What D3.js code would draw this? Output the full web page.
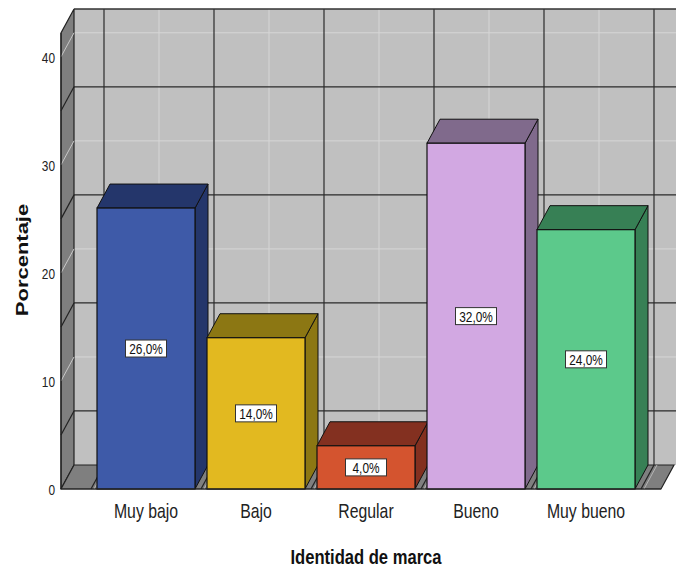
<!DOCTYPE html>
<html>
<head>
<meta charset="utf-8">
<script src="https://cdn.jsdelivr.net/npm/d3@7"></script>
<style>
  html, body { margin: 0; padding: 0; background: #fff; }
  svg { display: block; }
</style>
</head>
<body>
<div id="chart"></div>
<script>
// ── data ────────────────────────────────────────────────────────────────
const categories = ['Muy bajo', 'Bajo', 'Regular', 'Bueno', 'Muy bueno'];
const percentages = [26.0, 14.0, 4.0, 32.0, 24.0];
const yTicks = [0, 10, 20, 30, 40];

// front face / shaded face per bar
const frontColors = ['#3e5aa8', '#e2b920', '#d4542f', '#d2a8e2', '#5cc98b'];
const shadeColors = ['#24366b', '#8c7713', '#833020', '#806a8c', '#378055'];

// ── layout ──────────────────────────────────────────────────────────────
const width = 676, height = 567;
const depth = { dx: 13, dy: -24 };   // oblique offset front -> back
const plot = { left: 61, right: 661, bottom: 489, top: 33 };
const SQUASH = 0.79;                  // the text in the original is narrow

const svg = d3.select('#chart').append('svg')
    .attr('width', width)
    .attr('height', height);

const y = d3.scaleLinear().domain([0, 42.2]).range([plot.bottom, plot.top]);
const x = d3.scaleBand()
    .domain(categories)
    .range([91, 641])
    .paddingInner(12 / 110)
    .paddingOuter(6 / 110);

const step = x.step();
const bandStart = 91;
const boundaries = d3.range(categories.length + 1).map(i => bandStart + i * step);
const centers = categories.map(c => x(c) + x.bandwidth() / 2);

const back = (px, py) => [px + depth.dx, py + depth.dy];
const pts = arr => arr.map(p => p.join(',')).join(' ');

// ── walls ───────────────────────────────────────────────────────────────
const walls = svg.append('g');

// back wall
walls.append('rect')
    .attr('x', plot.left + depth.dx)
    .attr('y', plot.top + depth.dy)
    .attr('width', width - plot.left - depth.dx + 2)
    .attr('height', plot.bottom - plot.top)
    .attr('fill', '#c0c0c0');

// back wall grid: light at labelled ticks, dark halfway between
const lightRows = yTicks.filter(v => v > 0);
const darkRows = d3.range(5, 42, 10);

walls.selectAll('.hlight').data(lightRows).enter().append('line')
    .attr('x1', plot.left + depth.dx).attr('x2', width)
    .attr('y1', d => y(d) + depth.dy).attr('y2', d => y(d) + depth.dy)
    .attr('stroke', '#d6d6d6').attr('stroke-width', 1);

walls.selectAll('.vlight').data(centers).enter().append('line')
    .attr('x1', d => d + depth.dx).attr('x2', d => d + depth.dx)
    .attr('y1', plot.top + depth.dy).attr('y2', plot.bottom + depth.dy)
    .attr('stroke', '#d6d6d6').attr('stroke-width', 1);

walls.selectAll('.hdark').data(darkRows).enter().append('line')
    .attr('x1', plot.left + depth.dx).attr('x2', width)
    .attr('y1', d => y(d) + depth.dy).attr('y2', d => y(d) + depth.dy)
    .attr('stroke', '#2a2a2a').attr('stroke-width', 1.2);

walls.selectAll('.vdark').data(boundaries).enter().append('line')
    .attr('x1', d => d + depth.dx).attr('x2', d => d + depth.dx)
    .attr('y1', plot.top + depth.dy).attr('y2', plot.bottom + depth.dy)
    .attr('stroke', '#2a2a2a').attr('stroke-width', 1.2);

// top edge of back wall
walls.append('line')
    .attr('x1', plot.left + depth.dx).attr('x2', width)
    .attr('y1', plot.top + depth.dy).attr('y2', plot.top + depth.dy)
    .attr('stroke', '#333').attr('stroke-width', 1.5);

// left side wall
walls.append('polygon')
    .attr('points', pts([
        [plot.left, plot.bottom], back(plot.left, plot.bottom),
        back(plot.left, plot.top), [plot.left, plot.top]
    ]))
    .attr('fill', '#7f7f7f')
    .attr('stroke', '#222').attr('stroke-width', 1.2);

walls.selectAll('.slight').data(lightRows).enter().append('line')
    .attr('x1', plot.left).attr('y1', d => y(d))
    .attr('x2', plot.left + depth.dx).attr('y2', d => y(d) + depth.dy)
    .attr('stroke', '#c8c8c8').attr('stroke-width', 1);

walls.selectAll('.sdark').data(darkRows).enter().append('line')
    .attr('x1', plot.left).attr('y1', d => y(d))
    .attr('x2', plot.left + depth.dx).attr('y2', d => y(d) + depth.dy)
    .attr('stroke', '#222').attr('stroke-width', 1.2);

// floor
walls.append('polygon')
    .attr('points', pts([
        [plot.left, plot.bottom], [plot.right, plot.bottom],
        back(plot.right, plot.bottom), back(plot.left, plot.bottom)
    ]))
    .attr('fill', '#7f7f7f')
    .attr('stroke', '#222').attr('stroke-width', 1.2);

walls.selectAll('.fdark').data(boundaries).enter().append('line')
    .attr('x1', d => d).attr('y1', plot.bottom)
    .attr('x2', d => d + depth.dx).attr('y2', plot.bottom + depth.dy)
    .attr('stroke', '#222').attr('stroke-width', 1.2);

walls.selectAll('.flight').data(boundaries).enter().append('line')
    .attr('x1', d => d + 3).attr('y1', plot.bottom)
    .attr('x2', d => d + 3 + depth.dx).attr('y2', plot.bottom + depth.dy)
    .attr('stroke', '#b5b5b5').attr('stroke-width', 1);

// ── bars ────────────────────────────────────────────────────────────────
const bars = svg.append('g');

categories.forEach((cat, i) => {
    const x0 = x(cat), x1 = x0 + x.bandwidth();
    const yt = y(percentages[i]), yb = y(0);
    const g = bars.append('g');

    g.append('polygon') // side
        .attr('points', pts([[x1, yt], back(x1, yt), back(x1, yb), [x1, yb]]))
        .attr('fill', shadeColors[i])
        .attr('stroke', '#111').attr('stroke-width', 1);

    g.append('polygon') // top
        .attr('points', pts([[x0, yt], back(x0, yt), back(x1, yt), [x1, yt]]))
        .attr('fill', shadeColors[i])
        .attr('stroke', '#111').attr('stroke-width', 1);

    g.append('rect') // front
        .attr('x', x0).attr('y', yt)
        .attr('width', x.bandwidth()).attr('height', yb - yt)
        .attr('fill', frontColors[i])
        .attr('stroke', '#111').attr('stroke-width', 1.2);
});

// front axis edges
svg.append('line')
    .attr('x1', plot.left).attr('x2', plot.left)
    .attr('y1', plot.top).attr('y2', plot.bottom)
    .attr('stroke', '#222').attr('stroke-width', 1.2);
svg.append('line')
    .attr('x1', plot.left).attr('x2', plot.right)
    .attr('y1', plot.bottom).attr('y2', plot.bottom)
    .attr('stroke', '#222').attr('stroke-width', 1.2);

// ── value labels ────────────────────────────────────────────────────────
const fmt = v => v.toFixed(1).replace('.', ',') + '%';

categories.forEach((cat, i) => {
    const cx = x(cat) + x.bandwidth() / 2;
    const cy = (y(percentages[i]) + y(0)) / 2;
    const g = svg.append('g').attr('transform', `translate(${cx},${cy})`);
    g.append('rect')
        .attr('x', -20.5).attr('y', -8.5)
        .attr('width', 41).attr('height', 17)
        .attr('fill', '#fff')
        .attr('stroke', '#333').attr('stroke-width', 1);
    g.append('text')
        .attr('transform', `scale(${SQUASH},1)`)
        .attr('y', 5.5)
        .attr('text-anchor', 'middle')
        .attr('font-family', 'Liberation Sans, Arial, sans-serif')
        .attr('font-size', '15px')
        .attr('fill', '#111')
        .text(fmt(percentages[i]));
});

// ── axes text ───────────────────────────────────────────────────────────
const font = 'Liberation Sans, Arial, sans-serif';

svg.selectAll('.ytick').data(yTicks).enter().append('text')
    .attr('transform', d => `translate(55,${y(d) + 6}) scale(${SQUASH},1)`)
    .attr('text-anchor', 'end')
    .attr('font-family', font)
    .attr('font-size', '15px')
    .attr('fill', '#222')
    .text(d => d);

svg.selectAll('.xtick').data(categories).enter().append('text')
    .attr('transform', d => `translate(${x(d) + x.bandwidth() / 2},518) scale(${SQUASH},1)`)
    .attr('text-anchor', 'middle')
    .attr('font-family', font)
    .attr('font-size', '20px')
    .attr('fill', '#222')
    .text(d => d);

svg.append('text')
    .attr('transform', `translate(366,564) scale(${SQUASH},1)`)
    .attr('text-anchor', 'middle')
    .attr('font-family', font)
    .attr('font-weight', 'bold')
    .attr('font-size', '21px')
    .attr('fill', '#111')
    .text('Identidad de marca');

svg.append('text')
    .attr('transform', `translate(28,260) scale(${SQUASH},1) rotate(-90)`)
    .attr('text-anchor', 'middle')
    .attr('font-family', font)
    .attr('font-weight', 'bold')
    .attr('font-size', '22px')
    .attr('fill', '#111')
    .text('Porcentaje');
</script>
</body>
</html>
